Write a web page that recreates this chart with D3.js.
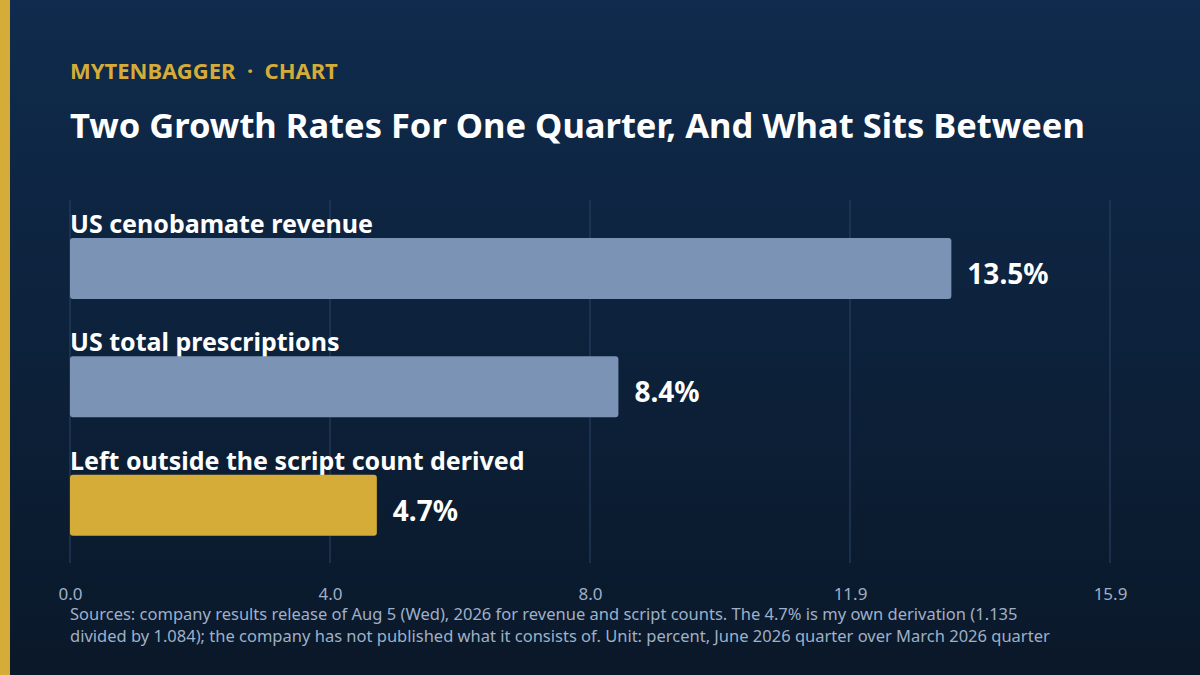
<!DOCTYPE html><html><head><meta charset="utf-8">
<script src="https://cdn.jsdelivr.net/npm/d3@7"></script>
<style>body{margin:0;background:#0b1a2e}svg{display:block}</style></head><body>
<svg id="c" width="1200" height="675"></svg>
<script>
const categories=["US cenobamate revenue","US total prescriptions","Left outside the script count derived"];
const values=[13.5,8.4,4.7];
const highlight=[false,false,true];
const xMax=15.93;
const tickValues=[0,1,2,3,4].map(i=>i*xMax/4);
const sourceLines=["Sources: company results release of Aug 5 (Wed), 2026 for revenue and script counts. The 4.7% is my own derivation (1.135","divided by 1.084); the company has not published what it consists of. Unit: percent, June 2026 quarter over March 2026 quarter"];
const svg=d3.select("#c");const F="'Source Sans Pro','Noto Sans',sans-serif";
const defs=svg.append("defs");const g=defs.append("linearGradient").attr("id","bg").attr("x1",0).attr("y1",0).attr("x2",0).attr("y2",1);
g.append("stop").attr("offset",0).attr("stop-color","#0f2b4d");g.append("stop").attr("offset",1).attr("stop-color","#0a1829");
svg.append("rect").attr("width",1200).attr("height",675).attr("fill","url(#bg)");
svg.append("rect").attr("width",10).attr("height",675).attr("fill","#d4ac37");
svg.append("text").attr("x",70).attr("y",79).attr("fill","#d4ac37").attr("font-family",F).attr("font-weight",700).attr("font-size",22).attr("xml:space","preserve").style("white-space","pre").text("MYTENBAGGER  ·  CHART");
svg.append("text").attr("x",70).attr("y",138).attr("fill","#fff").attr("font-family",F).attr("font-weight",700).attr("font-size",34.5).text("Two Growth Rates For One Quarter, And What Sits Between");
const x=d3.scaleLinear().domain([0,xMax]).range([70,1110]);
const y=d3.scaleBand().domain(categories).range([200,555]).paddingInner(0).paddingOuter(0);
svg.selectAll(".grid").data(tickValues).join("line").attr("x1",d=>x(d)).attr("x2",d=>x(d)).attr("y1",200).attr("y2",563).attr("stroke","#2a4466").attr("stroke-width",1);
const ax=svg.append("g").attr("transform","translate(0,597)").call(d3.axisBottom(x).tickValues(tickValues).tickFormat(d=>d.toFixed(1)).tickSize(0));
ax.select(".domain").remove();ax.selectAll("text").attr("fill","#9fb0c8").attr("font-family",F).attr("font-size",17).attr("dy",0);
const row=svg.selectAll(".row").data(categories).join("g");
row.append("text").attr("x",70).attr("y",d=>y(d)+33).attr("fill","#fff").attr("font-family",F).attr("font-weight",700).attr("font-size",25).text(d=>d);
row.append("rect").attr("x",x(0)).attr("y",d=>y(d)+38).attr("height",61).attr("rx",3).attr("width",(d,i)=>x(values[i])-x(0)).attr("fill",(d,i)=>highlight[i]?"#d4ac37":"#7b93b5");
row.append("text").attr("x",(d,i)=>x(values[i])+16).attr("y",d=>y(d)+84).attr("fill","#fff").attr("font-family",F).attr("font-weight",700).attr("font-size",28).text((d,i)=>values[i].toFixed(1)+"%");
svg.selectAll(".src").data(sourceLines).join("text").attr("x",70).attr("y",(d,i)=>620+i*22).attr("fill","#9fb0c8").attr("font-family",F).attr("font-size",16.5).text(d=>d);
</script></body></html>
